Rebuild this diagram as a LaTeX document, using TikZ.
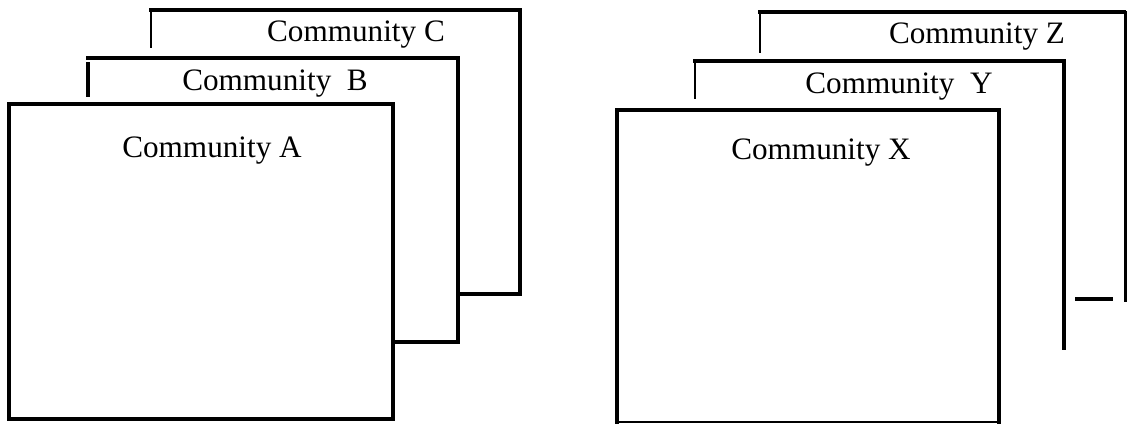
\documentclass[tikz,border=0pt]{standalone}
\usepackage{fontspec}
\setmainfont{Liberation Serif}

\begin{document}
\begin{tikzpicture}[
    x=0.5pt, y=-0.5pt,
    frame/.style={line width=2.4pt, line cap=rect, line join=miter},
    hair/.style={line width=0.6pt},
    side/.style={line width=1.2pt},
    title/.style={font={\fontsize{15.6}{18}\selectfont}, anchor=base}
]
    \useasboundingbox (0,0) rectangle (1128,424);

    % Draw community C (back)
    \draw [frame] (151,10) coordinate (c_1) -- (520,10) coordinate (c_2) -- (520,294) coordinate (c_3) -- (458,294);
    \draw [hair]  (c_1) -- (151,48);

    % Draw community B
    \draw [frame] (88,58) coordinate (b_1) -- (458,58) coordinate (b_2) -- (458,342) coordinate (b_3) -- (393,342);
    \draw [frame] (88,64) -- (88,95);

    % Draw community A (front)
    \draw [frame] (9,104) coordinate (a_1) rectangle (393,419) coordinate (a_2);

    \path (356,41) node [title] (commC) {Community C}
          (275,90) node [title] (commB) {Community~~B}
          (212,157) node [title] (commA) {Community A};

    % Draw community Z (back)
    \draw [frame] (760,12) coordinate (z_1) -- (1124,12) coordinate (z_2);
    \draw [side]  (1125.5,11) -- (1125.5,302) coordinate (z_3);
    \draw [frame] (1077,299) -- (1111,299);
    \draw [side]  (z_1) -- (760,53);

    % Draw community Y
    \draw [frame] (695,61) coordinate (y_1) -- (1064,61) coordinate (y_2) -- (1064,348) coordinate (y_3);
    \draw [hair]  (y_1) -- (695,99);

    % Draw community X (front)
    \draw [frame] (617,422) coordinate (x_1) -- (617,110) -- (999,110) -- (999,422) coordinate (x_2);
    \draw [hair]  (x_1) -- (x_2);

    \path (977,43) node [title] (commZ) {Community Z}
          (899,93) node [title] (commY) {Community~~Y}
          (821,159) node [title] (commX) {Community X};

\end{tikzpicture}
\end{document}
